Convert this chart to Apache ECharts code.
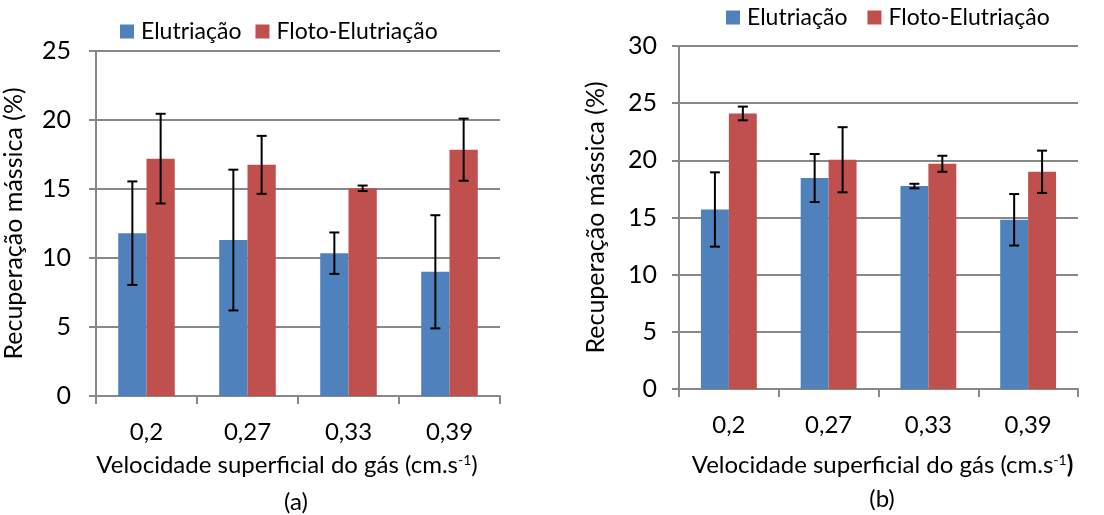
<!DOCTYPE html>
<html><head><meta charset="utf-8">
<script src="https://cdn.jsdelivr.net/npm/echarts@6/dist/echarts.min.js"></script>
<style>html,body{margin:0;padding:0;background:#fff}#c{width:1104px;height:515px}</style>
</head><body><div id="c"></div>
<script>
const categories = ['0,2', '0,27', '0,33', '0,39'];
// Chart (a)
const elutA = [11.8, 11.3, 10.35, 9.0];
const elutErrA = [3.75, 5.1, 1.5, 4.1];
const flotoA = [17.2, 16.75, 15.05, 17.85];
const flotoErrA = [3.25, 2.1, 0.2, 2.25];
// Chart (b)
const elutB = [15.7, 18.45, 17.75, 14.8];
const elutErrB = [3.25, 2.1, 0.2, 2.25];
const flotoB = [24.1, 20.05, 19.7, 19.0];
const flotoErrB = [0.6, 2.85, 0.7, 1.85];
const yTicksA = {min: 0, max: 25, interval: 5};
const yTicksB = {min: 0, max: 30, interval: 5};

const FONT = 'Lato';
const FS = 24;
const BLUE = '#4F81BD', RED = '#C0504D', GRAY = '#888888';

function errSeries(vals, errs, gi, seriesIdx) {
  return {
    type: 'custom', xAxisIndex: gi, yAxisIndex: gi, z: 10, silent: true,
    data: vals.map((v, i) => [i, v, errs[i]]),
    renderItem: function (params, api) {
      const i = api.value(0), v = api.value(1), e = api.value(2);
      const base = api.coord([i, v]);
      const band = api.size([1, 0])[0];
      const bw = band * 0.28;
      const x = base[0] + (seriesIdx === 0 ? -bw / 2 : bw / 2);
      const top = api.coord([i, v + e])[1];
      const bot = api.coord([i, v - e])[1];
      const cap = 5;
      const st = {stroke: '#000', lineWidth: 2};
      return {type: 'group', children: [
        {type: 'line', shape: {x1: x, y1: top, x2: x, y2: bot}, style: st},
        {type: 'line', shape: {x1: x - cap, y1: top, x2: x + cap, y2: top}, style: st},
        {type: 'line', shape: {x1: x - cap, y1: bot, x2: x + cap, y2: bot}, style: st}
      ]};
    }
  };
}

function xAxis(gi, lastBold, gap, pad) {
  return {
    type: 'category', gridIndex: gi, data: categories,
    axisLine: {lineStyle: {color: GRAY, width: 2}},
    axisTick: {show: true, length: 8, lineStyle: {color: GRAY, width: 2}},
    axisLabel: {color: '#000', fontFamily: FONT, fontSize: FS, margin: 24},
    name: '{n|Velocidade superficial do gás (cm.s}{s|-1}' + (lastBold ? '{b|)}' : '{n|)}'),
    nameLocation: 'middle', nameGap: gap,
    nameTextStyle: {
      padding: pad,
      rich: {
        n: {fontFamily: FONT, fontSize: FS, color: '#000'},
        s: {fontFamily: FONT, fontSize: 14, color: '#000', verticalAlign: 'top', padding: [0, 0, 9, 0]},
        b: {fontFamily: FONT, fontSize: FS, color: '#000', fontWeight: 'bold'}
      }
    }
  };
}

function yAxis(gi, t, gap, lm) {
  return {
    type: 'value', gridIndex: gi, min: t.min, max: t.max, interval: t.interval,
    axisLine: {show: true, lineStyle: {color: GRAY, width: 2}},
    axisTick: {show: true, length: 7, lineStyle: {color: GRAY, width: 2}},
    splitLine: {lineStyle: {color: GRAY, width: 2}},
    axisLabel: {color: '#000', fontFamily: FONT, fontSize: 25, margin: lm},
    name: 'Recuperação mássica (%)', nameLocation: 'middle', nameGap: gap, nameRotate: 90,
    nameTextStyle: {color: '#000', fontFamily: FONT, fontSize: 25}
  };
}

function bar(name, vals, color, gi) {
  return {
    name: name, type: 'bar', xAxisIndex: gi, yAxisIndex: gi, data: vals,
    barWidth: '28%', barGap: '0%',
    itemStyle: {color: color}
  };
}

const legendText = {fontFamily: FONT, fontSize: 23, color: '#000', padding: [0, 0, 0, 2]};
const chart = echarts.init(document.getElementById('c'), null, {renderer: 'canvas'});
chart.setOption({
  animation: false,
  grid: [
    {left: 90, right: 604, top: 51, bottom: 119},
    {left: 679, right: 26, top: 46, bottom: 126}
  ],
  legend: [
    {data: ['Elutriação', 'Floto-Elutriação'], left: 120, top: 20, padding: 0, icon: 'rect', itemWidth: 14, itemHeight: 14, itemGap: 14,
     textStyle: legendText},
    {data: ['Elutriação', 'Floto-Elutriaçâo'], left: 726, top: 6, padding: 0, icon: 'rect', itemWidth: 14, itemHeight: 14, itemGap: 20,
     textStyle: legendText}
  ],
  title: [
    {text: '(a)', left: 296, top: 490, textAlign: 'center', textStyle: {fontFamily: FONT, fontSize: FS, fontWeight: 'normal', color: '#000'}, padding: 0},
    {text: '(b)', left: 882, top: 487, textAlign: 'center', textStyle: {fontFamily: FONT, fontSize: FS, fontWeight: 'normal', color: '#000'}, padding: 0}
  ],
  xAxis: [xAxis(0, false, 57, [0, 22, 0, 0]), xAxis(1, true, 64, [0, 0, 0, 8])],
  yAxis: [yAxis(0, yTicksA, 70, 25), yAxis(1, yTicksB, 71, 22)],
  series: [
    bar('Elutriação', elutA, BLUE, 0),
    bar('Floto-Elutriação', flotoA, RED, 0),
    bar('Elutriação', elutB, BLUE, 1),
    bar('Floto-Elutriaçâo', flotoB, RED, 1),
    errSeries(elutA, elutErrA, 0, 0),
    errSeries(flotoA, flotoErrA, 0, 1),
    errSeries(elutB, elutErrB, 1, 0),
    errSeries(flotoB, flotoErrB, 1, 1)
  ]
});
</script></body></html>
